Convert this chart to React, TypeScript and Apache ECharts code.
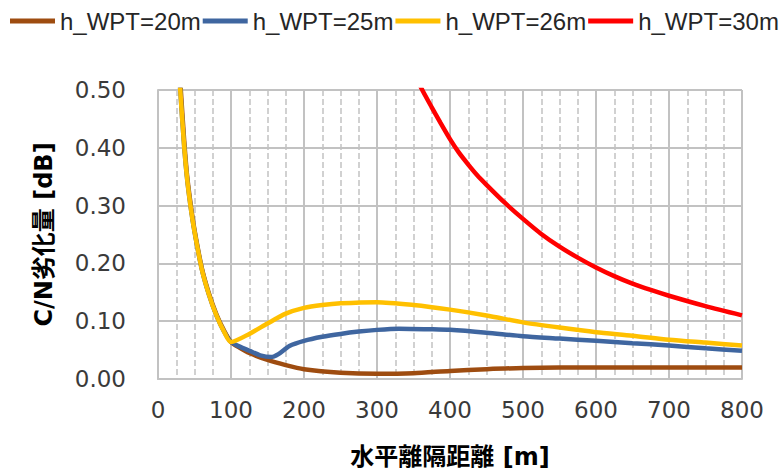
import React, { useEffect, useRef } from "react";
import * as echarts from "echarts";

const seriesNames = ["h_WPT=20m", "h_WPT=25m", "h_WPT=26m", "h_WPT=30m"];
const seriesColors = ["#9E4C10", "#3F66A0", "#FFC000", "#FF0000"];

const x20 = [28, 31, 36, 40, 45, 50, 60, 70, 80, 90, 100, 112, 125, 150, 175, 200, 250, 300, 350, 400, 450, 500, 600, 700, 800];
const y20 = [0.56, 0.505, 0.41, 0.35, 0.3, 0.258, 0.192, 0.147, 0.112, 0.085, 0.064, 0.054, 0.045, 0.033, 0.024, 0.017, 0.011, 0.009, 0.01, 0.014, 0.017, 0.019, 0.02, 0.02, 0.02];

const x25 = [28, 31, 36, 40, 45, 50, 60, 70, 80, 90, 100, 112, 125, 140, 155, 165, 180, 200, 225, 250, 275, 300, 330, 375, 400, 450, 500, 550, 600, 650, 700, 750, 800];
const y25 = [0.55, 0.49, 0.4, 0.345, 0.295, 0.255, 0.19, 0.145, 0.11, 0.083, 0.064, 0.056, 0.049, 0.041, 0.038, 0.043, 0.057, 0.066, 0.073, 0.078, 0.082, 0.085, 0.087, 0.086, 0.085, 0.08, 0.074, 0.07, 0.066, 0.062, 0.058, 0.053, 0.049];

const x26 = [28, 31, 36, 40, 45, 50, 60, 70, 80, 90, 100, 125, 150, 175, 200, 225, 250, 300, 350, 400, 450, 500, 550, 600, 650, 700, 750, 800];
const y26 = [0.55, 0.49, 0.4, 0.345, 0.295, 0.255, 0.19, 0.145, 0.11, 0.083, 0.064, 0.078, 0.096, 0.113, 0.123, 0.128, 0.131, 0.133, 0.128, 0.12, 0.11, 0.098, 0.089, 0.081, 0.075, 0.068, 0.063, 0.058];

const x30 = [350, 362, 375, 387, 400, 412, 425, 437, 450, 475, 500, 525, 550, 575, 600, 625, 650, 675, 700, 750, 800];
const y30 = [0.53, 0.5, 0.47, 0.443, 0.415, 0.392, 0.371, 0.353, 0.336, 0.305, 0.277, 0.251, 0.229, 0.21, 0.193, 0.178, 0.165, 0.154, 0.144, 0.126, 0.11];

const xTicks = { min: 0, max: 800, interval: 100 };
const yTicks = { min: 0, max: 0.5, interval: 0.1 };

const xTitle = "水平離隔距離 [m]";
const yTitle = "C/N劣化量 [dB]";

const zip = (xs: number[], ys: number[]) => xs.map((x, i) => [x, ys[i]]);

export default function App() {
  const ref = useRef<HTMLDivElement>(null);
  useEffect(() => {
    if (!ref.current) return;
    const chart = echarts.init(ref.current, undefined, { renderer: "svg" });
    const xs = [x20, x25, x26, x30];
    const ys = [y20, y25, y26, y30];
    const gridColor = "#C2C2C2";
    const nameFont = "'DejaVu Sans', 'Noto Sans CJK JP', sans-serif";
    chart.setOption({
      animation: false,
      backgroundColor: "#ffffff",
      legend: {
        left: 5,
        top: 4,
        width: 776,
        itemWidth: 45,
        itemHeight: 5,
        itemGap: 2,
        icon: "rect",
        textStyle: {
          fontFamily: "'Liberation Sans', Arial, sans-serif",
          fontSize: 24,
          color: "#262626",
        },
        data: seriesNames,
      },
      grid: { left: 158, top: 90, width: 584, height: 293, containLabel: false },
      xAxis: {
        type: "value",
        min: xTicks.min,
        max: xTicks.max,
        interval: xTicks.interval,
        name: xTitle,
        nameLocation: "middle",
        nameGap: 66,
        nameTextStyle: {
          fontFamily: nameFont,
          fontWeight: "bold",
          fontSize: 24,
          color: "#000000",
        },
        axisLine: { show: true, lineStyle: { color: gridColor, width: 2 } },
        axisTick: { show: false },
        axisLabel: {
          margin: 19,
          fontFamily: "'DejaVu Sans', sans-serif",
          fontSize: 23,
          color: "#3A3A3A",
        },
        splitLine: { show: true, lineStyle: { color: gridColor, width: 2 } },
        minorTick: { show: false, splitNumber: 4 },
        minorSplitLine: { show: true, lineStyle: { color: gridColor, width: 1.5, type: [6, 3] } },
      },
      yAxis: {
        type: "value",
        min: yTicks.min,
        max: yTicks.max,
        interval: yTicks.interval,
        name: yTitle,
        nameLocation: "middle",
        nameGap: 102,
        nameTextStyle: {
          fontFamily: nameFont,
          fontWeight: "bold",
          fontSize: 24,
          color: "#000000",
        },
        axisLine: { show: true, lineStyle: { color: gridColor, width: 2 } },
        axisTick: { show: false },
        axisLabel: {
          margin: 32,
          fontFamily: "'DejaVu Sans', sans-serif",
          fontSize: 23,
          color: "#3A3A3A",
          formatter: (v: number) => v.toFixed(2),
        },
        splitLine: { show: true, lineStyle: { color: gridColor, width: 2 } },
      },
      series: seriesNames.map((name, i) => ({
        name,
        type: "line",
        data: zip(xs[i], ys[i]),
        smooth: 0.25,
        showSymbol: false,
        symbol: "none",
        clip: true,
        lineStyle: { color: seriesColors[i], width: 4.5 },
        itemStyle: { color: seriesColors[i] },
      })),
    });
    return () => chart.dispose();
  }, []);
  return (
    <div
      ref={ref}
      style={{ position: "fixed", left: 0, top: 0, width: 781, height: 474, background: "#fff" }}
    />
  );
}
